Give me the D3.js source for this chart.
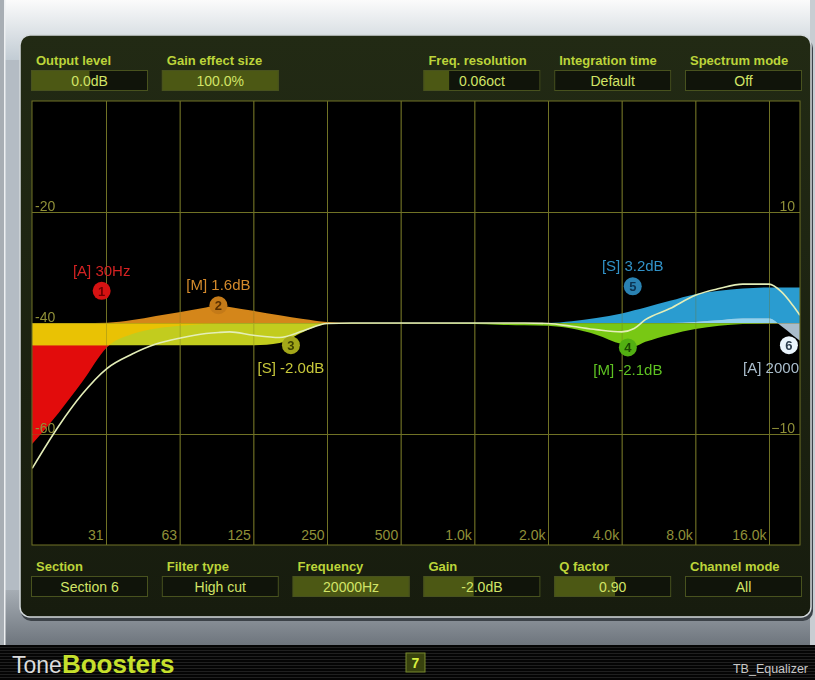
<!DOCTYPE html>
<html>
<head>
<meta charset="utf-8">
<script src="https://cdn.jsdelivr.net/npm/d3@7"></script>
<style>
body { margin: 0; background: #8e969e; }
svg { display: block; font-family: "Liberation Sans", Arial, sans-serif; }
</style>
</head>
<body>
<div id="eq"></div>
<script>
// frequency grid (Hz) that the curves were read at
var freqs = [15.6, 20, 25, 31.5, 40, 50, 63, 80, 90, 100, 125, 160, 200, 250, 315, 400, 500, 630,
	800, 1000, 1250, 1600, 2000, 2500, 3150, 4000, 4500, 5000, 6300, 8000, 10000, 12500, 16000, 18000, 20000, 21400]

// per section response in dB
var sec1 = [-10.9, -8.1, -5.3, -2.2, -1.0, -0.5, -0.25, -0.1, -0.05, 0, 0, 0, 0, 0, 0, 0, 0, 0,
	0, 0, 0, 0, 0, 0, 0, 0, 0, 0, 0, 0, 0, 0, 0, 0, 0, 0]
var sec2 = [0, 0, 0, 0.03, 0.27, 0.64, 1.0, 1.4, 1.6, 1.45, 1.1, 0.7, 0.35, 0.08, 0, 0, 0, 0,
	0, 0, 0, 0, 0, 0, 0, 0, 0, 0, 0, 0, 0, 0, 0, 0, 0, 0]
var sec3 = [-2, -2, -2, -2, -2, -2, -2, -2, -2, -2, -2, -1.8, -0.8, -0.1, -0.05, 0, 0, 0,
	0, 0, 0, 0, 0, 0, 0, 0, 0, 0, 0, 0, 0, 0, 0, 0, 0, 0]
var sec4 = [0, 0, 0, 0, 0, 0, 0, 0, 0, 0, 0, 0, 0, 0, 0, 0, 0, 0,
	-0.05, -0.1, -0.15, -0.2, -0.25, -0.5, -1.05, -1.9, -2.1, -1.7, -1.05, -0.55, -0.25, -0.1, -0.03, 0, 0, 0]
var sec5 = [0, 0, 0, 0, 0, 0, 0, 0, 0, 0, 0, 0, 0, 0, 0, 0, 0, 0,
	0, 0, 0, 0, 0, 0.15, 0.45, 0.85, 1.15, 1.4, 2.0, 2.6, 2.9, 3.1, 3.2, 3.2, 3.2, 3.2]
var sec6 = [0, 0, 0, 0, 0, 0, 0, 0, 0, 0, 0, 0, 0, 0, 0, 0, 0, 0,
	0, 0, 0, 0, 0, 0, 0, 0, 0, 0, 0, 0.1, 0.25, 0.4, 0.4, -0.3, -1.1, -1.6]
var total = [-13.1, -9.3, -6.4, -4.1, -2.8, -1.9, -1.35, -0.95, -0.85, -0.8, -1.1, -1.3, -0.7, -0.05, 0, 0, 0, 0,
	0, 0, 0, 0, -0.05, -0.3, -0.6, -0.8, -0.5, 0.3, 1.3, 2.5, 3.1, 3.5, 3.5, 2.8, 1.6, 0.7]

// axes
var octaveTicks = [31.25, 62.5, 125, 250, 500, 1000, 2000, 4000, 8000, 16000]
var octaveLabels = ["31", "63", "125", "250", "500", "1.0k", "2.0k", "4.0k", "8.0k", "16.0k"]
var spectrumTicks = [-20, -40, -60]
var gainTicks = [10, -10]

// section markers (last name is shown cut short, as on screen)
var sectionNames = ["[A] 30Hz", "[M] 1.6dB", "[S] -2.0dB", "[M] -2.1dB", "[S] 3.2dB", "[A] 2000"]
var sectionFreq = [30, 90, 178, 4240, 4440, 19300]
var sectionGain = [2.9, 1.6, -2.0, -2.2, 3.3, -2.0]
var labelAbove = [true, true, false, false, true, false]

// control boxes
var topLabels = ["Output level", "Gain effect size", "Freq. resolution", "Integration time", "Spectrum mode"]
var topValues = ["0.0dB", "100.0%", "0.06oct", "Default", "Off"]
var topFill = [0.5, 1, 0.22, 0, 0]
var topSlots = [0, 1, 3, 4, 5]
var bottomLabels = ["Section", "Filter type", "Frequency", "Gain", "Q factor", "Channel mode"]
var bottomValues = ["Section 6", "High cut", "20000Hz", "-2.0dB", "0.90", "All"]
var bottomFill = [0, 0, 1, 0.43, 0.52, 0]

var w = 815, h = 680
var svg = d3.select("#eq").append("svg").attr("width", w).attr("height", h)
var defs = svg.append("defs")

// backdrop
var g1 = defs.append("linearGradient").attr("id", "topbg").attr("x1", 0).attr("x2", 0).attr("y1", 0).attr("y2", 1)
g1.append("stop").attr("offset", 0).attr("stop-color", "#fbfbfb")
g1.append("stop").attr("offset", 1).attr("stop-color", "#c2ccd4")
var g2 = defs.append("linearGradient").attr("id", "lowbg").attr("x1", 0).attr("x2", 0).attr("y1", 0).attr("y2", 1)
g2.append("stop").attr("offset", 0).attr("stop-color", "#a6adb4")
g2.append("stop").attr("offset", 1).attr("stop-color", "#6d747c")
var g3 = defs.append("linearGradient").attr("id", "panelbg").attr("x1", 0).attr("x2", 0).attr("y1", 0).attr("y2", 1)
g3.append("stop").attr("offset", 0).attr("stop-color", "#222a14")
g3.append("stop").attr("offset", 1).attr("stop-color", "#171c0e")
var stripes = defs.append("pattern").attr("id", "stripes").attr("width", 4).attr("height", 3).attr("patternUnits", "userSpaceOnUse")
stripes.append("rect").attr("width", 4).attr("height", 3).attr("fill", "#050505")
stripes.append("rect").attr("y", 2).attr("width", 4).attr("height", 1).attr("fill", "#202020")

svg.append("rect").attr("width", w).attr("height", h).attr("fill", "#b4bcc4")
svg.append("rect").attr("width", w).attr("height", 60).attr("fill", "url(#topbg)")
svg.append("rect").attr("y", 590).attr("width", w).attr("height", 56).attr("fill", "url(#lowbg)")
svg.append("rect").attr("width", 5).attr("height", 646).attr("fill", "#a8aeb4")
svg.append("rect").attr("x", 4).attr("width", 1.5).attr("height", 646).attr("fill", "#eef0f2")
svg.append("rect").attr("x", 810).attr("width", 5).attr("height", 646).attr("fill", "#c8cdd2")
svg.append("rect").attr("y", 645).attr("width", w).attr("height", 35).attr("fill", "url(#stripes)")

// panel
svg.append("rect").attr("x", 21).attr("y", 38).attr("width", 792).attr("height", 583).attr("rx", 10)
	.attr("fill", "#3c4248")
svg.append("rect").attr("x", 20).attr("y", 35).attr("width", 791).attr("height", 582).attr("rx", 10)
	.attr("fill", "url(#panelbg)").attr("stroke", "#d4d9dc").attr("stroke-width", 1.5)

// scales
var x = d3.scaleLog().domain([31.25, 16000]).range([106, 769])
var yGain = d3.scaleLinear().domain([-20, 20]).range([545, 101])
var ySpec = d3.scaleLinear().domain([-80, 0]).range([545, 101])
var slot = d3.scaleLinear().domain([0, 5]).range([31, 685])

var plotL = 32, plotR = 800, plotT = 101, plotB = 545

defs.append("clipPath").attr("id", "plotclip").append("rect")
	.attr("x", plotL).attr("y", plotT).attr("width", plotR - plotL).attr("height", plotB - plotT)

svg.append("rect").attr("x", plotL).attr("y", plotT).attr("width", plotR - plotL).attr("height", plotB - plotT)
	.attr("fill", "#000")

var gridColor = "#717226"
var labelColor = "#909038"

function drawGrid(parent, withText) {
	var gx = parent.append("g").attr("transform", "translate(0," + plotB + ")")
		.call(d3.axisBottom(x).tickValues(octaveTicks).tickSize(-(plotB - plotT))
			.tickFormat(function(d, i) { return withText ? octaveLabels[i] : "" }))
	gx.select(".domain").remove()
	gx.selectAll("line").attr("stroke", gridColor)
	gx.selectAll("text").attr("y", -5).attr("dy", 0).attr("x", -3).attr("text-anchor", "end")
		.attr("fill", labelColor).style("font-size", "14px").style("font-family", "Liberation Sans, Arial, sans-serif")

	var gl = parent.append("g").attr("transform", "translate(" + plotL + ",0)")
		.call(d3.axisLeft(ySpec).tickValues(spectrumTicks).tickSize(-(plotR - plotL))
			.tickFormat(function(d) { return withText ? d : "" }))
	gl.select(".domain").remove()
	gl.selectAll("line").attr("stroke", gridColor)
	gl.selectAll("text").attr("x", 3).attr("dy", -2).attr("text-anchor", "start")
		.attr("fill", labelColor).style("font-size", "14px").style("font-family", "Liberation Sans, Arial, sans-serif")
	return parent
}

drawGrid(svg.append("g"), false)

// curves
var plot = svg.append("g").attr("clip-path", "url(#plotclip)")

function areaPath(vals) {
	return d3.area()
		.x(function(d, i) { return x(freqs[i]) })
		.y0(yGain(0))
		.y1(function(d) { return yGain(d) })
		.curve(d3.curveMonotoneX)(vals)
}

defs.append("clipPath").attr("id", "clip1").append("path").attr("d", areaPath(sec1))
defs.append("clipPath").attr("id", "clip5").append("path").attr("d", areaPath(sec5))

plot.append("path").attr("d", areaPath(sec2)).attr("fill", "#d4861a")
plot.append("path").attr("d", areaPath(sec1)).attr("fill", "#e20c0c")
plot.append("path").attr("d", areaPath(sec3)).attr("fill", "#c2cc1e")
plot.append("path").attr("d", areaPath(sec3)).attr("fill", "#e9c204").attr("clip-path", "url(#clip1)")
plot.append("path").attr("d", areaPath(sec4)).attr("fill", "#78c814")
plot.append("path").attr("d", areaPath(sec5)).attr("fill", "#2a9cd0")
plot.append("path").attr("d", areaPath(sec6)).attr("fill", "#a9bccb")
plot.append("path").attr("d", areaPath(sec6)).attr("fill", "#92d2ee").attr("clip-path", "url(#clip5)")

// grid shows faintly through the fills
drawGrid(plot.append("g").attr("opacity", 0.35), false)

plot.append("path")
	.attr("d", d3.line()
		.x(function(d, i) { return x(freqs[i]) })
		.y(function(d) { return yGain(d) })
		.curve(d3.curveMonotoneX)(total))
	.attr("fill", "none").attr("stroke", "#e4eeb8").attr("stroke-width", 1.6)

// section markers
var markFill = ["#d61212", "#c47a18", "#a3a619", "#52b012", "#2a82b2", "#eaf5fc"]
var markText = ["#6e0000", "#5a3000", "#3e4000", "#1c4a00", "#0c3452", "#2c3e4e"]
var nameColor = ["#d42222", "#d48a2c", "#c8c83a", "#5ec222", "#3192c8", "#aabdcc"]

var marks = plot.selectAll("g.mark").data(sectionNames).enter().append("g").attr("class", "mark")
	.attr("transform", function(d, i) { return "translate(" + x(sectionFreq[i]) + "," + yGain(sectionGain[i]) + ")" })
marks.append("circle").attr("r", 9).attr("fill", function(d, i) { return markFill[i] })
marks.append("text").attr("y", 5).attr("text-anchor", "middle").style("font-size", "13px").style("font-weight", "bold")
	.attr("fill", function(d, i) { return markText[i] })
	.text(function(d, i) { return i + 1 })
marks.append("text").style("font-size", "15px")
	.attr("text-anchor", function(d, i) { return i == 5 ? "end" : "middle" })
	.attr("x", function(d, i) { return i == 5 ? plotR - 1 - x(sectionFreq[i]) : 0 })
	.attr("y", function(d, i) { return labelAbove[i] ? -15 : 28 })
	.attr("fill", function(d, i) { return nameColor[i] })
	.text(function(d) { return d })

// axis labels on top
drawGrid(svg.append("g"), true).selectAll("line").remove()

var gr = svg.append("g").attr("transform", "translate(" + plotR + ",0)")
	.call(d3.axisRight(yGain).tickValues(gainTicks).tickSize(0))
gr.select(".domain").remove()
gr.selectAll("text").attr("x", -5).attr("dy", -2).attr("text-anchor", "end")
	.attr("fill", labelColor).style("font-size", "14px").style("font-family", "Liberation Sans, Arial, sans-serif")

svg.append("rect").attr("x", plotL).attr("y", plotT).attr("width", plotR - plotL).attr("height", plotB - plotT)
	.attr("fill", "none").attr("stroke", gridColor)

// control boxes
function controls(labels, values, fills, slots, labelY, boxY) {
	var g = svg.append("g")
	var c = g.selectAll("g").data(labels).enter().append("g")
		.attr("transform", function(d, i) { return "translate(" + slot(slots[i]) + ",0)" })
	c.append("text").attr("x", 5).attr("y", labelY).style("font-size", "13px").style("font-weight", "bold")
		.attr("fill", "#bcd43a").text(function(d) { return d })
	c.append("rect").attr("y", boxY).attr("width", 117).attr("height", 21).attr("fill", "#10140a")
	c.append("rect").attr("y", boxY).attr("height", 21).attr("fill", "#4c5814")
		.attr("width", function(d, i) { return 117 * fills[i] })
	c.append("rect").attr("y", boxY + 0.5).attr("x", 0.5).attr("width", 116).attr("height", 20)
		.attr("fill", "none").attr("stroke", "#48521e")
	c.append("text").attr("x", 58.5).attr("y", boxY + 16).attr("text-anchor", "middle").style("font-size", "14px")
		.attr("fill", "#d2e466").text(function(d, i) { return values[i] })
}
controls(topLabels, topValues, topFill, topSlots, 65, 70)
controls(bottomLabels, bottomValues, bottomFill, [0, 1, 2, 3, 4, 5], 571, 576)

// footer
var logo = svg.append("text").attr("x", 12).attr("y", 673)
logo.append("tspan").attr("fill", "#dcdcdc").style("font-size", "23px").text("Tone")
logo.append("tspan").attr("fill", "#c6e02c").style("font-size", "26px").style("font-weight", "bold").text("Boosters")

svg.append("rect").attr("x", 406).attr("y", 653).attr("width", 19).attr("height", 19)
	.attr("fill", "#38420e").attr("stroke", "#788a2e")
svg.append("text").attr("x", 415.5).attr("y", 668).attr("text-anchor", "middle")
	.style("font-size", "14px").style("font-weight", "bold").attr("fill", "#d8f040").text("7")

svg.append("text").attr("x", 808).attr("y", 673).attr("text-anchor", "end")
	.style("font-size", "12.5px").attr("fill", "#c8c8c8").text("TB_Equalizer")
</script>
</body>
</html>
